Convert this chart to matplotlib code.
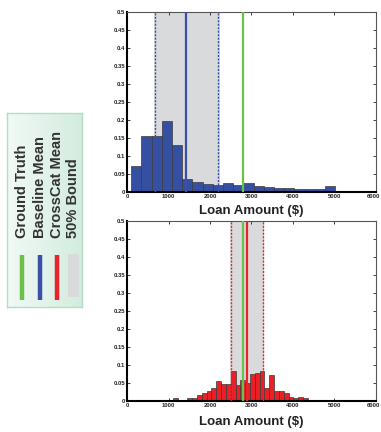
import numpy as np
import matplotlib
matplotlib.use('Agg')
import matplotlib.pyplot as plt
from matplotlib.patches import Rectangle
from matplotlib.transforms import ScaledTranslation

plt.rcParams['font.family'] = ['Liberation Sans', 'DejaVu Sans']

# Datos: histograma del modelo base (arriba)
base_start = 100
base_width = 245.8
base_heights = [0.073, 0.156, 0.156, 0.198, 0.131, 0.036, 0.027, 0.021,
                0.019, 0.026, 0.019, 0.026, 0.016, 0.015, 0.012, 0.010,
                0.009, 0.009, 0.009, 0.016, 0.0, 0.001, 0.0, 0.004]
base_mean = 1430
base_bound = [675, 2193]
base_span = [640, 2245]

# Datos: histograma CrossCat (abajo)
cc_start = 876
cc_width = 116
cc_heights = [0.002, 0.0, 0.0075, 0.0, 0.003, 0.0075, 0.0075, 0.016,
              0.022, 0.028, 0.036, 0.056, 0.048, 0.048, 0.084, 0.044,
              0.059, 0.049, 0.076, 0.078, 0.084, 0.036, 0.072, 0.028,
              0.028, 0.021, 0.011, 0.008, 0.011, 0.0075, 0.004, 0.0,
              0.0, 0.0, 0.0, 0.004, 0.0, 0.0, 0.0, 0.0, 0.0, 0.004]
cc_mean = 2884
cc_bound = [2498, 3277]
cc_span = [2472, 3300]

ground_truth = 2790

x_ticks = [0, 1000, 2000, 3000, 4000, 5000, 6000]
y_ticks = [0, 0.05, 0.1, 0.15, 0.2, 0.25, 0.3, 0.35, 0.4, 0.45, 0.5]
y_labels = ['0', '0.05', '0.1', '0.15', '0.2', '0.25', '0.3', '0.35', '0.4', '0.45', '0.5']

legend_labels = ['Ground Truth', 'Baseline Mean', 'CrossCat Mean', '50% Bound']

c_green = '#6cbf47'
c_blue = '#3a4fa6'
c_red = '#e8232a'
c_gray = '#d9dadc'

fig = plt.figure(figsize=(3.81, 4.32), dpi=100)


def draw_panel(ax, start, width, heights, color, mean, bound, span, line_color):
    lefts = start + width * np.arange(len(heights))
    ax.axvspan(span[0], span[1], color=c_gray, zorder=0, lw=0)
    ax.bar(lefts, heights, width=width, align='edge', color=color,
           edgecolor='#3a3a3a', linewidth=0.5, zorder=2)
    for b in bound:
        ax.axvline(b, color=line_color, lw=1.0, ls=(0, (1.5, 1)), zorder=3)
    ax.axvline(mean, color=line_color, lw=1.6, zorder=4)
    ax.axvline(ground_truth, color=c_green, lw=1.6, zorder=4)
    ax.set_xlim(0, 6000)
    ax.set_ylim(0, 0.5)
    ax.set_xticks(x_ticks)
    ax.set_xticklabels([str(t) for t in x_ticks])
    ax.set_yticks(y_ticks)
    ax.set_yticklabels(y_labels)
    ax.tick_params(direction='in', length=2, width=0.6, labelsize=4.2,
                   pad=1.5, top=True, right=True, colors='#222222')
    for lab in ax.get_xticklabels() + ax.get_yticklabels():
        lab.set_fontweight('bold')
    # la última etiqueta se desplaza un poco para que quepa
    last = ax.get_xticklabels()[-1]
    last.set_transform(last.get_transform() +
                       ScaledTranslation(-3 / 100, 0, fig.dpi_scale_trans))
    ax.spines['left'].set_linewidth(1.5)
    ax.spines['bottom'].set_linewidth(1.5)
    ax.spines['top'].set_linewidth(0.8)
    ax.spines['right'].set_linewidth(0.8)
    ax.spines['top'].set_color('#555555')
    ax.spines['right'].set_color('#555555')
    ax.set_xlabel('Loan Amount ($)', fontsize=9.5, fontweight='bold',
                  color='#222222', labelpad=4)


ax1 = fig.add_axes([127 / 381, 240 / 432, 249 / 381, 180 / 432])
draw_panel(ax1, base_start, base_width, base_heights, '#3550a3',
           base_mean, base_bound, base_span, c_blue)

ax2 = fig.add_axes([127 / 381, 31 / 432, 249 / 381, 180 / 432])
draw_panel(ax2, cc_start, cc_width, cc_heights, '#ea2027',
           cc_mean, cc_bound, cc_span, c_red)
ax2.xaxis.labelpad = 6

# Leyenda (caja con degradado)
lg = fig.add_axes([7 / 381, 125 / 432, 75 / 381, 194 / 432])
grad = np.linspace(0, 1, 64)[None, :]
lg.imshow(grad, cmap=matplotlib.colors.LinearSegmentedColormap.from_list(
    'g', ['#f1f9f5', '#d3ecdf']), aspect='auto', extent=[0, 75, 0, 194])
lg.set_xlim(0, 75)
lg.set_ylim(0, 194)
lg.set_xticks([])
lg.set_yticks([])
for s in lg.spines.values():
    s.set_color('#b5dcc6')
    s.set_linewidth(1.0)

xs = [14.5, 32.5, 49.5, 66]
colors = [c_green, c_blue, c_red]
for x, lab in zip(xs, legend_labels):
    lg.text(x, 69, lab, rotation=90, ha='center', va='bottom', fontsize=10.5,
            fontweight='bold', color='#333333')
for x, c in zip(xs[:3], colors):
    lg.plot([x, x], [7, 52], color=c, lw=3.2, solid_capstyle='butt')
lg.add_patch(Rectangle((xs[3] - 5.5, 10), 11, 43, color=c_gray, lw=0))

fig.savefig('out.png', dpi=100)
